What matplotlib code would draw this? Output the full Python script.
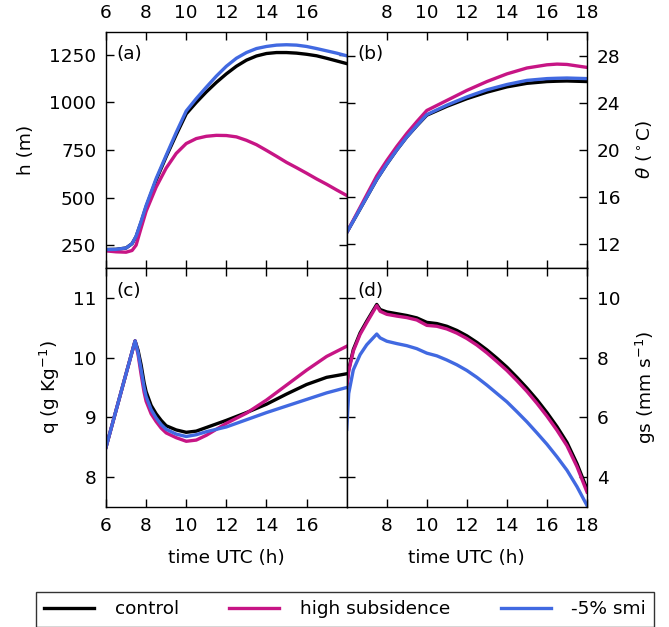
import matplotlib
matplotlib.use("Agg")
import matplotlib.pyplot as plt
from matplotlib.lines import Line2D

# ---------------- data ----------------
series_names = ["control", "high subsidence", "-5% smi"]
colors = ["black", "#C71585", "#4169E1"]

# (a) boundary-layer height h (m)
t_h = [6, 6.5, 7, 7.3, 7.5, 7.75, 8, 8.5, 9, 9.5, 10, 10.5, 11, 11.5, 12, 12.5, 13, 13.5, 14,
       14.5, 15, 15.5, 16, 16.5, 17, 17.5, 18]
h_control = [227, 228, 235, 258, 295, 370, 452, 592, 715, 830, 940, 1000, 1055, 1105, 1150, 1190,
             1222, 1244, 1257, 1262, 1262, 1259, 1253, 1245, 1232, 1218, 1204]
h_subs = [220, 215, 213, 222, 250, 340, 428, 555, 655, 732, 784, 810, 822, 827, 826, 819,
          801, 778, 748, 717, 685, 657, 628, 598, 570, 540, 511]
h_smi = [227, 228, 235, 258, 297, 375, 458, 600, 722, 842, 955, 1020, 1080, 1138, 1190, 1232,
         1262, 1283, 1294, 1301, 1303, 1301, 1294, 1283, 1271, 1259, 1245]

# (b) potential temperature theta (deg C)
t_th = [6, 6.5, 7, 7.5, 8, 8.5, 9, 9.5, 10, 11, 12, 13, 14, 15, 16, 16.5, 17, 18]
th_control = [13.0, 14.5, 16.0, 17.5, 18.8, 20.0, 21.1, 22.05, 22.95, 23.7, 24.35, 24.9, 25.35, 25.65, 25.8, 25.83, 25.85, 25.8]
th_subs = [13.0, 14.6, 16.2, 17.8, 19.1, 20.3, 21.4, 22.4, 23.35, 24.2, 25.05, 25.8, 26.45, 26.95, 27.22, 27.28, 27.25, 27.0]
th_smi = [13.0, 14.5, 16.0, 17.5, 18.8, 20.0, 21.1, 22.07, 23.0, 23.8, 24.5, 25.1, 25.55, 25.9, 26.05, 26.08, 26.1, 26.05]

# (c) specific humidity q (g/kg)
t_q = [6, 7, 7.45, 7.6, 7.75, 7.9, 8, 8.25, 8.5, 8.75, 9, 9.5, 10, 10.5, 11, 12, 13, 14, 15, 16, 17, 18]
q_control = [8.5, 9.73, 10.28, 10.12, 9.88, 9.58, 9.43, 9.2, 9.06, 8.95, 8.86, 8.79, 8.75, 8.77, 8.83, 8.95, 9.08, 9.22, 9.39, 9.55, 9.67, 9.73]
q_subs = [8.5, 9.73, 10.28, 10.05, 9.72, 9.42, 9.27, 9.06, 8.93, 8.82, 8.74, 8.66, 8.6, 8.62, 8.7, 8.9, 9.07, 9.29, 9.54, 9.79, 10.02, 10.19]
q_smi = [8.5, 9.73, 10.28, 10.08, 9.8, 9.5, 9.35, 9.13, 8.99, 8.88, 8.8, 8.72, 8.68, 8.71, 8.76, 8.84, 8.96, 9.08, 9.19, 9.3, 9.41, 9.5]

# (d) surface conductance gs (mm/s)
t_gs = [6, 6.1, 6.33, 6.67, 7, 7.5, 7.67, 8, 8.5, 9, 9.5, 10, 10.5, 11, 11.5, 12, 12.5, 13,
        13.5, 14, 14.5, 15, 15.5, 16, 16.5, 17, 17.5, 18]
gs_control = [7.03, 7.6, 8.27, 8.83, 9.22, 9.78, 9.61, 9.53, 9.47, 9.41, 9.33, 9.18, 9.14, 9.05,
              8.91, 8.73, 8.51, 8.26, 7.98, 7.68, 7.34, 6.98, 6.59, 6.16, 5.69, 5.16, 4.45, 3.6]
gs_subs = [7.0, 7.55, 8.22, 8.78, 9.17, 9.74, 9.55, 9.45, 9.39, 9.34, 9.26, 9.08, 9.05, 8.96,
           8.82, 8.64, 8.42, 8.16, 7.87, 7.57, 7.23, 6.87, 6.47, 6.04, 5.57, 5.05, 4.35, 3.5]
gs_smi = [5.6, 6.8, 7.59, 8.10, 8.43, 8.79, 8.66, 8.55, 8.47, 8.40, 8.30, 8.15, 8.06, 7.92,
          7.76, 7.57, 7.34, 7.08, 6.80, 6.52, 6.19, 5.85, 5.48, 5.10, 4.68, 4.23, 3.68, 3.05]

xticks_left = [6, 8, 10, 12, 14, 16]
xticks_right = [8, 10, 12, 14, 16, 18]
yticks_a = [250, 500, 750, 1000, 1250]
yticks_b = [12, 16, 20, 24, 28]
yticks_c = [8, 9, 10, 11]
yticks_d = [4, 6, 8, 10]

# ---------------- style ----------------
FS = 13.3
plt.rcParams["font.family"] = ["DejaVu Sans"]
plt.rcParams["font.size"] = FS
plt.rcParams["mathtext.fontset"] = "dejavusans"

W, H = 669, 627
fig = plt.figure(figsize=(W / 100, H / 100), dpi=100)

def fx(px):
    return px / W

def fy(px):
    return 1 - px / H

xl, xm, xr = 106, 346.7, 587
yt, ym, yb = 32, 268, 507

axa = fig.add_axes([fx(xl), fy(ym), fx(xm - xl), fy(yt) - fy(ym)])
axb = fig.add_axes([fx(xm), fy(ym), fx(xr - xm), fy(yt) - fy(ym)])
axc = fig.add_axes([fx(xl), fy(yb), fx(xm - xl), fy(ym) - fy(yb)])
axd = fig.add_axes([fx(xm), fy(yb), fx(xr - xm), fy(ym) - fy(yb)])

LW = 2.4
def draw(ax, t, ys):
    for y, c in zip(ys, colors):
        ax.plot(t, y, color=c, lw=LW, solid_joinstyle="round")

draw(axa, t_h, [h_control, h_subs, h_smi])
draw(axb, t_th, [th_control, th_subs, th_smi])
draw(axc, t_q, [q_control, q_subs, q_smi])
draw(axd, t_gs, [gs_control, gs_subs, gs_smi])

for ax in (axa, axb, axc, axd):
    ax.set_xlim(6, 18)
    ax.tick_params(direction="in", length=6, width=1, pad=7, top=True, bottom=True,
                   left=True, right=True, labelsize=FS)
    for s in ax.spines.values():
        s.set_linewidth(1.0)

axa.set_ylim(130, 1370)
axb.set_ylim(10, 30)
axc.set_ylim(7.5, 11.5)
axd.set_ylim(3, 11)

axa.set_xticks(xticks_left)
axc.set_xticks(xticks_left)
axb.set_xticks(xticks_right)
axd.set_xticks(xticks_right)
axa.set_yticks(yticks_a)
axb.set_yticks(yticks_b)
axc.set_yticks(yticks_c)
axd.set_yticks(yticks_d)

axa.tick_params(labeltop=True, labelbottom=False)
axb.tick_params(labeltop=True, labelbottom=False, labelleft=False, labelright=True)
axd.tick_params(labelleft=False, labelright=True)

axa.set_ylabel("h (m)", labelpad=10)
axc.set_ylabel("q (g Kg$^{-1}$)", labelpad=8)
axb.yaxis.set_label_position("right")
axb.set_ylabel(r"$\theta$ ($^\circ$C)", labelpad=10)
axd.yaxis.set_label_position("right")
axd.set_ylabel("gs (mm s$^{-1}$)", labelpad=10)
axc.set_xlabel("time UTC (h)", labelpad=10)
axd.set_xlabel("time UTC (h)", labelpad=10)

for ax, lab in zip((axa, axb, axc, axd), ("(a)", "(b)", "(c)", "(d)")):
    ax.text(0.045, 0.905, lab, transform=ax.transAxes, ha="left", va="center", fontsize=FS)

handles = [Line2D([], [], color=c, lw=LW) for c in colors]
leg = fig.legend(handles, series_names, loc="upper left",
                 bbox_to_anchor=(fx(36), fy(592)), ncol=3, frameon=True,
                 fancybox=False, fontsize=FS, handlelength=2.7, handletextpad=1.1,
                 columnspacing=2.75, borderpad=0.45, borderaxespad=0)
leg.get_frame().set_edgecolor("black")
leg.get_frame().set_linewidth(1.0)

fig.savefig("out.png", dpi=100)
